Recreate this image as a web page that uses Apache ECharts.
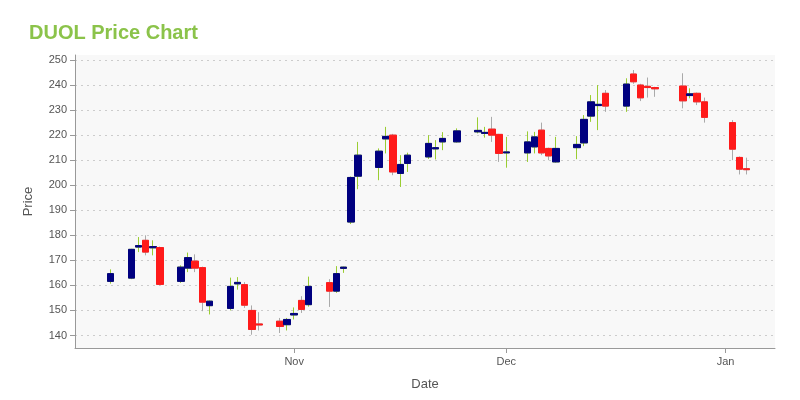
<!DOCTYPE html><html><head><meta charset="utf-8"><script src="https://cdn.jsdelivr.net/npm/echarts@6/dist/echarts.min.js"></script></head><body style="margin:0"><div id="c" style="width:800px;height:400px"></div><script>
// date, open, close, low, high
const dates=['2023-10-06','2023-10-09','2023-10-10','2023-10-11','2023-10-12','2023-10-13','2023-10-16','2023-10-17','2023-10-18','2023-10-19','2023-10-20','2023-10-23','2023-10-24','2023-10-25','2023-10-26','2023-10-27','2023-10-30','2023-10-31','2023-11-01','2023-11-02','2023-11-03','2023-11-06','2023-11-07','2023-11-08','2023-11-09','2023-11-10','2023-11-13','2023-11-14','2023-11-15','2023-11-16','2023-11-17','2023-11-20','2023-11-21','2023-11-22','2023-11-24','2023-11-27','2023-11-28','2023-11-29','2023-11-30','2023-12-01','2023-12-04','2023-12-05','2023-12-06','2023-12-07','2023-12-08','2023-12-11','2023-12-12','2023-12-13','2023-12-14','2023-12-15','2023-12-18','2023-12-19','2023-12-20','2023-12-21','2023-12-22','2023-12-26','2023-12-27','2023-12-28','2023-12-29','2024-01-02','2024-01-03','2024-01-04'];
const opens =[161.6,162.9,175.3,178,175,175.1,161.6,166.9,169.7,167.1,151.9,150.8,160.6,160.3,150,144.6,145.7,144.3,148.2,154,152.3,161.1,157.7,166.8,185.3,203.6,207.1,218.5,220,204.7,208.7,211.3,214.5,217.3,217.3,221.3,220.7,222.4,220.3,212.9,212.9,215.3,222,214.7,209.3,215,216.9,227.6,231.8,236.7,231.6,244.4,240,239.5,239,239.6,235.8,236.7,233.3,225,211.1,206.6];
const closes=[164.7,174.4,175.9,173.3,175.5,160.4,167.3,171.1,166.9,153.3,153.7,159.6,161.2,152.1,142.4,144.2,143.6,146.4,148.8,150.4,159.6,157.7,164.7,167.3,203.1,212,213.6,219.5,205.3,208.3,212,216.7,215,218.7,221.7,221.9,221.1,220,212.7,213.3,217.3,219.3,212.9,211.7,214.7,216.3,226.3,233.3,232.3,231.6,240.4,241.3,234.9,239,238.5,233.7,236.5,233.3,227.1,214.4,206.4,206.2];
const lows  =[160.7,162.5,173.3,172,172,160,161,165.3,165.3,149.7,148.4,150,158.3,151,140.3,142,141,142,146.4,149,151.5,151.4,157,165,184.5,198.4,202,212.7,204,199.3,205.3,210.5,210.3,214,217,220.7,219,217.3,209.3,207,209.3,212.7,212,210,209,210.4,215.6,225.3,222,229.3,229.3,240.5,233.6,235,235.3,230.7,234.7,232,225,210,204.3,204.3];
const highs =[166.4,174.6,179.3,180,178,175.5,168,173.1,172.4,167.5,154,163.1,163.3,161.3,152,149.3,147,147,151.2,155.7,163.5,162.5,167.7,167.5,203.5,217.3,214.7,223.3,220.5,212,213,220,218,221.2,222.7,227.1,223.3,227.3,220.5,219.3,221.5,221.3,225,215,219.3,219.6,228,236,240,238,242.7,246,240.5,243,239.3,244.7,238.7,237,235,226,211.5,211];
const yTicks=[140,150,160,170,180,190,200,210,220,230,240,250];
const tickDates=['2023-11-01','2023-12-01','2024-01-01'];
const tickNames=['Nov','Dec','Jan'];

const days=[];{let d=new Date(Date.UTC(2023,9,1));const e=new Date(Date.UTC(2024,0,8));while(d<=e){days.push(d.toISOString().slice(0,10));d=new Date(d.getTime()+864e5);}}
const full=[],bodies=[];
days.forEach(d=>{const i=dates.indexOf(d);if(i<0){full.push('-');bodies.push('-');}else{full.push([opens[i],closes[i],lows[i],highs[i]]);bodies.push([opens[i],closes[i],Math.min(opens[i],closes[i]),Math.max(opens[i],closes[i])]);}});
const ch=echarts.init(document.getElementById('c'));
ch.setOption({animation:false,
title:{text:'DUOL Price Chart',left:24,top:18,textStyle:{color:'#8bc34a',fontSize:20,fontWeight:'bold',fontFamily:'Liberation Sans'}},
grid:{left:75,right:25,top:55,bottom:52,show:true,backgroundColor:'#f8f8f8',borderWidth:0},
xAxis:{type:'category',data:days,boundaryGap:false,name:'Date',nameLocation:'middle',nameGap:30,nameTextStyle:{fontSize:13,color:'#555'},
 axisLine:{lineStyle:{color:'#999'}},
 axisTick:{interval:(i,v)=>tickDates.includes(v),lineStyle:{color:'#999'}},
 axisLabel:{interval:(i,v)=>tickDates.includes(v),formatter:v=>tickNames[tickDates.indexOf(v)]||'',color:'#555',fontSize:11},
 splitLine:{show:false}},
yAxis:{type:'value',min:135,max:252,name:'Price',nameLocation:'middle',nameGap:40,nameTextStyle:{fontSize:13,color:'#555'},
 axisLine:{show:true,lineStyle:{color:'#999'}},
 axisTick:{show:true,customValues:yTicks,lineStyle:{color:'#999'}},
 axisLabel:{customValues:yTicks,color:'#555',fontSize:11},
 splitLine:{show:true,lineStyle:{color:'#ccc',type:[2,4]}}},
series:[
 {type:'candlestick',data:full,barWidth:7,itemStyle:{color:'transparent',color0:'transparent',borderColor:'#9acd32',borderColor0:'#aaaaaa',borderWidth:1}},
 {type:'candlestick',data:bodies,barWidth:7,itemStyle:{color:'#000080',color0:'#ff1a1a',borderColor:'#000080',borderColor0:'#ff1a1a',borderWidth:1}}
]});
</script></body></html>
